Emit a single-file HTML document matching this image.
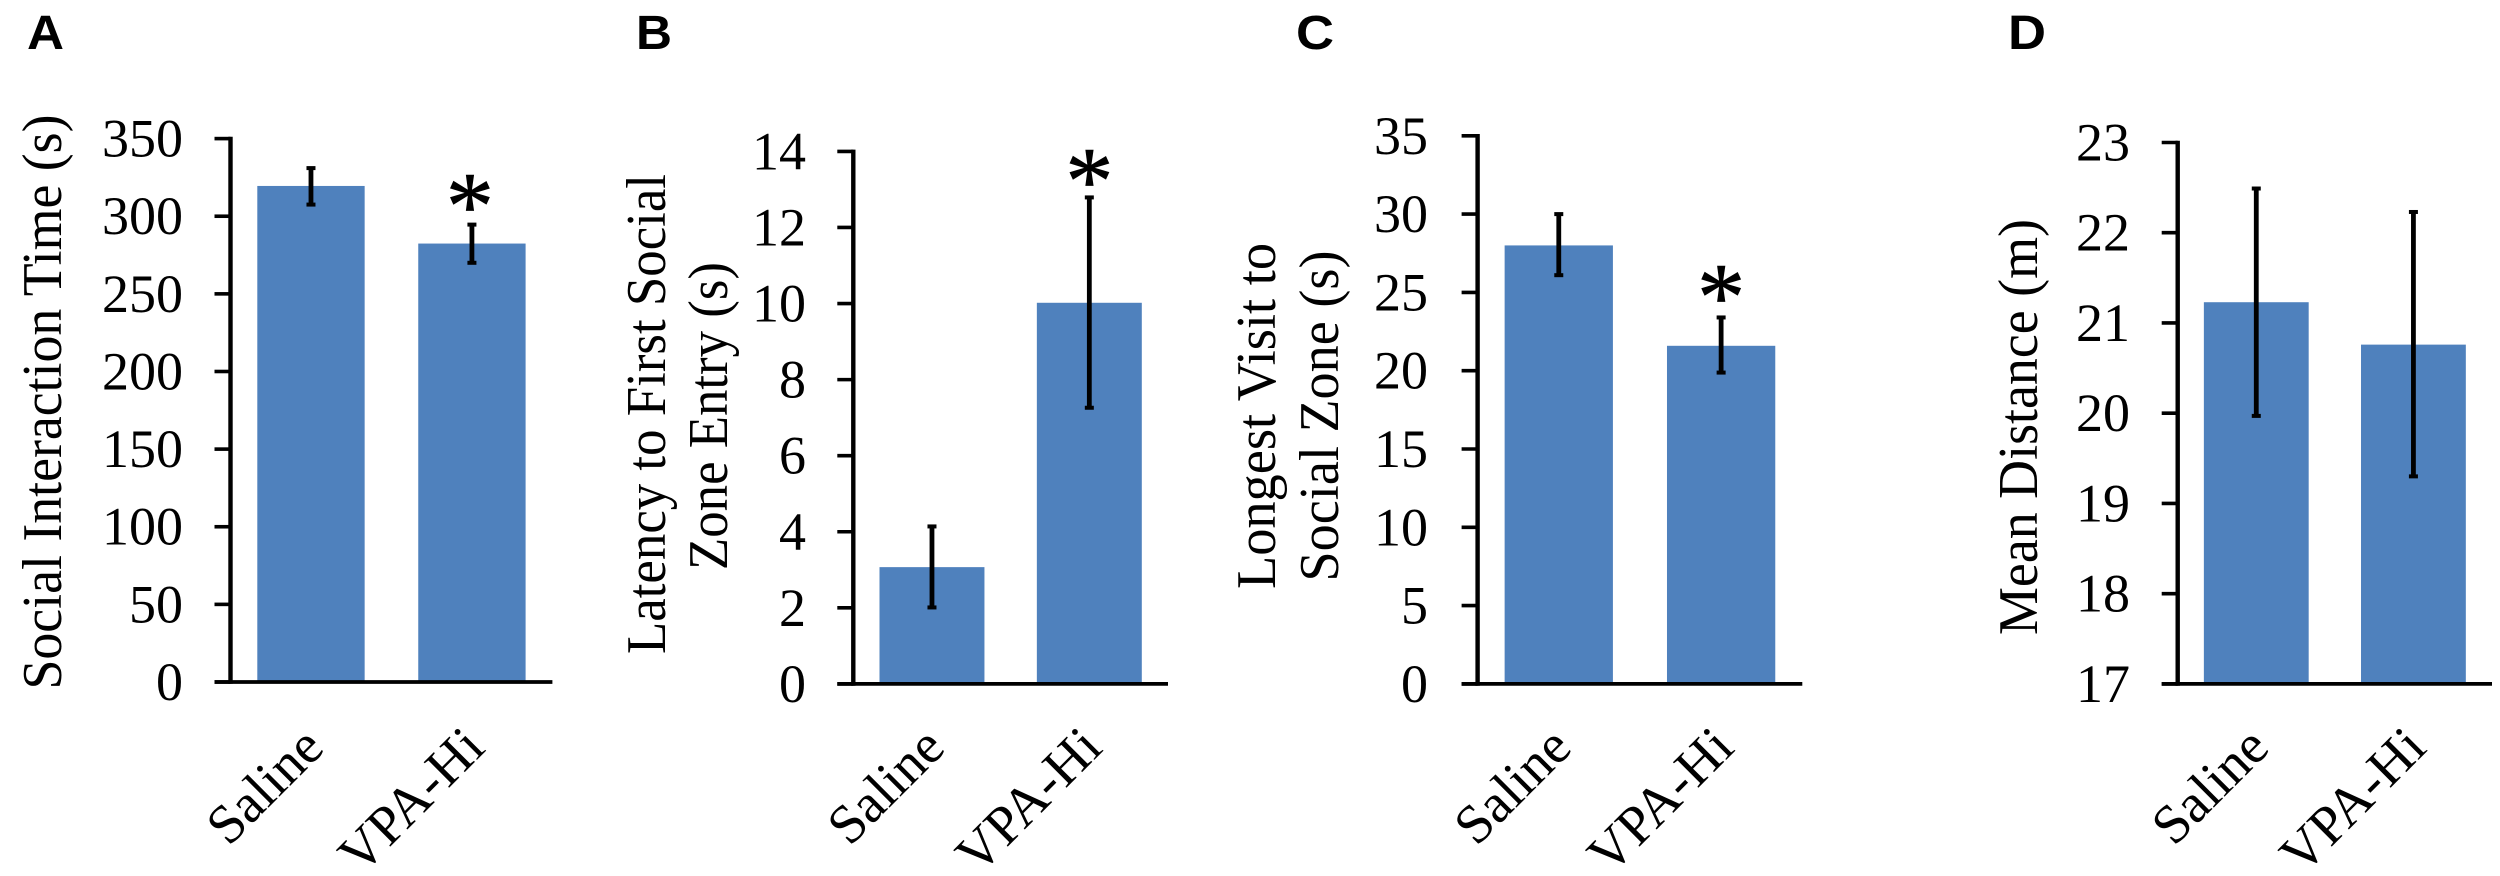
<!DOCTYPE html>
<html lang="en">
<head>
<meta charset="utf-8">
<title>Social behaviour bar charts</title>
<style>
html,body{margin:0;padding:0;background:#fff;}
svg{display:block;}
text{font-family:"Liberation Serif",serif;fill:#000;}
.letter{font-family:"Liberation Sans",sans-serif;font-weight:700;font-size:48px;}
</style>
</head>
<body>
<svg id="figure" xmlns="http://www.w3.org/2000/svg" width="2500" height="876" viewBox="0 0 2500 876">
<rect x="0" y="0" width="2500" height="876" fill="#ffffff"/>
<text class="letter" x="27" y="49" textLength="37" lengthAdjust="spacingAndGlyphs">A</text>
<text class="letter" x="636" y="49" textLength="36" lengthAdjust="spacingAndGlyphs">B</text>
<text class="letter" x="1296" y="49" textLength="38" lengthAdjust="spacingAndGlyphs">C</text>
<text class="letter" x="2008" y="49" textLength="38" lengthAdjust="spacingAndGlyphs">D</text>
</svg>
<script>
// Shared category labels
const categories = ["Saline", "VPA-Hi"];

// Panel A data
const aTicks = [0, 50, 100, 150, 200, 250, 300, 350];
const aMeans = [319.5, 282.4];
const aUpper = [331, 294.6];
const aLower = [307.5, 270];
const aStars = [false, true];

// Panel B data
const bTicks = [0, 2, 4, 6, 8, 10, 12, 14];
const bMeans = [3.07, 10.02];
const bUpper = [4.14, 12.79];
const bLower = [2.01, 7.26];
const bStars = [false, true];

// Panel C data
const cTicks = [0, 5, 10, 15, 20, 25, 30, 35];
const cMeans = [28.0, 21.59];
const cUpper = [30.0, 23.4];
const cLower = [26.1, 19.88];
const cStars = [false, true];

// Panel D data
const dTicks = [17, 18, 19, 20, 21, 22, 23];
const dMeans = [21.23, 20.76];
const dUpper = [22.49, 22.23];
const dLower = [19.97, 19.30];
const dStars = [false, false];

// Axis titles
const aTitle = ["Social Interaction Time (s)"];
const bTitle = ["Latency to First Social", "Zone Entry (s)"];
const cTitle = ["Longest Visit to", "Social Zone (s)"];
const dTitle = ["Mean Distance (m)"];

const SVGNS = "http://www.w3.org/2000/svg";
const root = document.getElementById("figure");

function make(tag, parent, props) {
  const node = document.createElementNS(SVGNS, tag);
  for (const k in props) node.setAttribute(k, props[k]);
  parent.appendChild(node);
  return node;
}

function drawPanel(id, ticks, means, upper, lower, stars, title, frame) {
  const g = make("g", root, {});
  
  

  const min = ticks[0];
  const max = ticks[ticks.length - 1];
  const yScale = v => frame.base - (v - min) / (max - min) * (frame.base - frame.top);
  const band = (frame.right - frame.axis) / categories.length;
  const xScale = i => frame.axis + band * (i + 0.5);
  const barW = band * 0.667;

  // Title lines
  title.forEach((line, i) => {
    const t = make("text", g, {
      "font-size": 56,
      "text-anchor": "middle",
      "textLength": frame.titleLen[i],
      "lengthAdjust": "spacingAndGlyphs",
      "transform": "translate(" + frame.titleX[i] + "," + frame.titleY[i] + ") rotate(-90)"
    });
    
    
    t.textContent = line;
  });

  // Bars
  means.forEach((m, i) => {
    const b = make("rect", g, {
      x: xScale(i) - barW / 2,
      y: yScale(m),
      width: barW,
      height: frame.base - yScale(m),
      fill: "#4f81bd"
    });
    
    
  });

  // Ticks and tick labels
  ticks.forEach(v => {
    const tk = make("line", g, {
      x1: frame.axis - 16, x2: frame.axis,
      y1: yScale(v), y2: yScale(v),
      stroke: "#000", "stroke-width": 3.6
    });
    
    
    const lb = make("text", g, {
      x: frame.labelRight,
      y: yScale(v) + 18,
      "font-size": 54,
      "text-anchor": "end"
    });
    
    
    lb.textContent = String(v);
  });

  // Axes
  const ya = make("line", g, {
    x1: frame.axis, x2: frame.axis,
    y1: yScale(max) - 1.8, y2: frame.base + 1.8,
    stroke: "#000", "stroke-width": 4.4
  });
  
  
  const xa = make("line", g, {
    x1: frame.axis - 16, x2: frame.right,
    y1: frame.base, y2: frame.base,
    stroke: "#000", "stroke-width": 3.8
  });
  
  

  // Error bars, stars, category labels
  means.forEach((m, i) => {
    const cx = xScale(i);
    const stem = make("line", g, {
      x1: cx, x2: cx, y1: yScale(upper[i]), y2: yScale(lower[i]),
      stroke: "#000", "stroke-width": 4.8
    });
    
    
    const capTop = make("line", g, {
      x1: cx - 4.5, x2: cx + 4.5, y1: yScale(upper[i]), y2: yScale(upper[i]),
      stroke: "#000", "stroke-width": 4
    });
    
    
    const capLow = make("line", g, {
      x1: cx - 4.5, x2: cx + 4.5, y1: yScale(lower[i]), y2: yScale(lower[i]),
      stroke: "#000", "stroke-width": 4
    });
    
    

    if (stars[i]) {
      const s = make("text", g, {
        x: cx + frame.starDx,
        y: yScale(upper[i]) + frame.starDy,
        "font-size": 96,
        "text-anchor": "middle",
        stroke: "#000",
        "stroke-width": 0.8
      });
      
      
      s.textContent = "*";
    }

    const c = make("text", g, {
      "font-size": 55,
      "text-anchor": "end",
      "transform": "translate(" + (cx + 15) + ",750) rotate(-45)"
    });
    
    
    c.textContent = categories[i];
  });
}

drawPanel("a", aTicks, aMeans, aUpper, aLower, aStars, aTitle, {
  axis: 230.5, right: 552.4, top: 138.6, base: 682, labelRight: 183, starDx: -2, starDy: 14,
  titleX: [61], titleY: [402], titleLen: [575]
});
drawPanel("b", bTicks, bMeans, bUpper, bLower, bStars, bTitle, {
  axis: 853.3, right: 1168, top: 151.4, base: 683.9, labelRight: 806, starDx: 0, starDy: 16,
  titleX: [665, 727], titleY: [414, 416], titleLen: [480, 308]
});
drawPanel("c", cTicks, cMeans, cUpper, cLower, cStars, cTitle, {
  axis: 1477.6, right: 1802.3, top: 135.8, base: 683.9, labelRight: 1428, starDx: 0, starDy: 12,
  titleX: [1275, 1338], titleY: [416, 416], titleLen: [346, 331]
});
drawPanel("d", dTicks, dMeans, dUpper, dLower, dStars, dTitle, {
  axis: 2177.7, right: 2492, top: 142.5, base: 683.9, labelRight: 2130, starDx: 0, starDy: 14,
  titleX: [2037], titleY: [427], titleLen: [416]
});
</script>
</body>
</html>
